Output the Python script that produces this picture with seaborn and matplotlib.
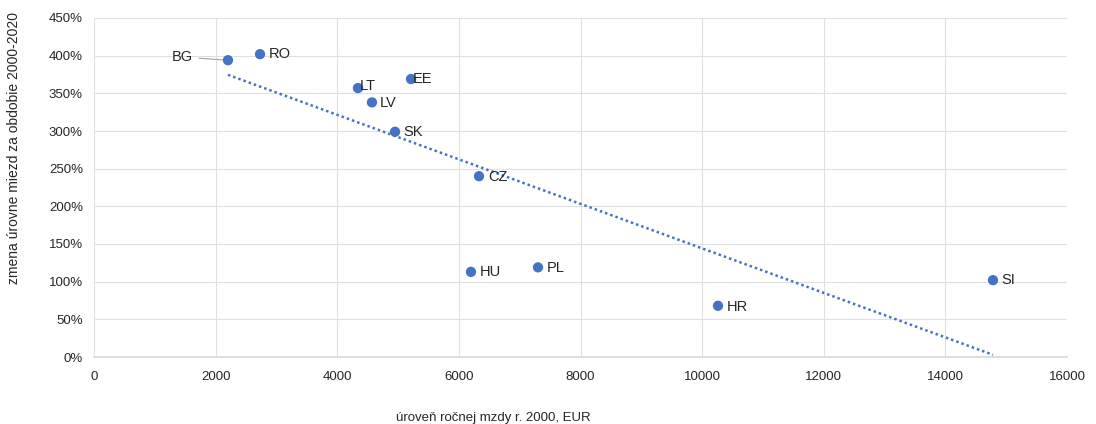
import matplotlib
matplotlib.use("Agg")
import matplotlib.pyplot as plt
from matplotlib.ticker import FuncFormatter, MultipleLocator
import seaborn as sns
import pandas as pd

# Annual wage level in 2000 (EUR) and wage growth 2000-2020 (%)
countries = ["BG", "RO", "LT", "EE", "LV", "SK", "CZ", "HU", "PL", "HR", "SI"]
wage_2000 = [2203, 2730, 4341, 5213, 4571, 4950, 6331, 6199, 7301, 10261, 14783]
wage_growth = [394, 402, 357, 369, 338, 299, 240, 113, 119, 68, 102]

# Label placement relative to each point (pixels)
label_offsets = {
    "BG": (-35, 3), "RO": (9, 0), "LT": (2, 2), "EE": (2, 0), "LV": (8, -1),
    "SK": (8, 0), "CZ": (9, -1), "HU": (9, 0), "PL": (9, -1), "HR": (9, -1),
    "SI": (8, 0),
}

df = pd.DataFrame({"country": countries, "wage": wage_2000, "growth": wage_growth})

sns.set_theme(style="white")
plt.rcParams["font.family"] = ["Liberation Sans", "DejaVu Sans"]

blue = "#4472C4"
fig = plt.figure(figsize=(10.96, 4.24), dpi=100)
ax = fig.add_axes([94 / 1096, 1 - 357 / 424, (1067 - 94) / 1096, (357 - 18) / 424])

sns.regplot(data=df, x="wage", y="growth", ax=ax, scatter=False, ci=None,
            color=blue, line_kws={"linestyle": (0, (1, 1.2)), "linewidth": 1.8})
sns.scatterplot(data=df, x="wage", y="growth", ax=ax, color=blue, s=55,
                edgecolor="none", zorder=3)

for c, xv, yv in zip(countries, wage_2000, wage_growth):
    dx, dy = label_offsets[c]
    if c == "BG":
        ax.annotate(c, (xv, yv), xytext=(dx, dy), textcoords="offset pixels",
                    ha="right", va="center", fontsize=10.5, color="#262626",
                    arrowprops=dict(arrowstyle="-", color="#a6a6a6", lw=0.8,
                                    shrinkA=2, shrinkB=4))
    else:
        ax.annotate(c, (xv, yv), xytext=(dx, dy), textcoords="offset pixels",
                    ha="left", va="center", fontsize=10.5, color="#262626")

ax.set_xlim(0, 16000)
ax.set_ylim(0, 450)
ax.xaxis.set_major_locator(MultipleLocator(2000))
ax.yaxis.set_major_locator(MultipleLocator(50))
ax.yaxis.set_major_formatter(FuncFormatter(lambda v, p: f"{v:.0f}%"))
ax.grid(True, color="#e0e0e0", linewidth=0.8)
ax.set_axisbelow(True)
for side in ["top", "right", "left"]:
    ax.spines[side].set_visible(False)
ax.spines["bottom"].set_color("#d9d9d9")
ax.tick_params(axis="both", labelsize=9.5, length=0, pad=8)
ax.tick_params(axis="x", pad=10)
for lab in ax.get_xticklabels() + ax.get_yticklabels():
    lab.set_color("#262626")
ax.set_xlabel("")
ax.set_ylabel("")

fig.text(493 / 1096, 1 - 418 / 424, "úroveň ročnej mzdy r. 2000, EUR",
         ha="center", va="center", fontsize=9.5, color="#262626")
fig.text(14 / 1096, 1 - 148 / 424, "zmena úrovne miezd za obdobie 2000-2020",
         ha="center", va="center", rotation=90, fontsize=10, color="#262626")

fig.savefig("out.png", dpi=100)
